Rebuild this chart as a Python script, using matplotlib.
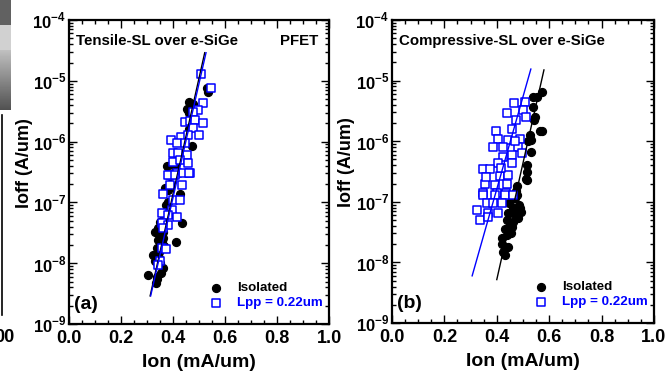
import matplotlib
matplotlib.use("Agg")
import matplotlib.pyplot as plt
import numpy as np

plt.rcParams['font.family'] = ['Liberation Sans', 'DejaVu Sans']
plt.rcParams['font.weight'] = 'bold'
plt.rcParams['mathtext.fontset'] = 'custom'
plt.rcParams['mathtext.rm'] = 'Liberation Sans:bold'
plt.rcParams['mathtext.bf'] = 'Liberation Sans:bold'

# panel (a): Tensile-SL over e-SiGe
ion_a_iso = [0.530, 0.536, 0.460, 0.470, 0.455, 0.478, 0.462, 0.458, 0.462, 0.472,
             0.376, 0.408, 0.427, 0.381, 0.433, 0.350, 0.331, 0.362, 0.342, 0.356,
             0.412, 0.324, 0.331, 0.362, 0.305, 0.337, 0.335, 0.345, 0.352, 0.340,
             0.348, 0.358, 0.366, 0.372, 0.390, 0.380, 0.360, 0.345, 0.350, 0.338,
             0.355, 0.370, 0.395, 0.342, 0.365]
ioff_a_iso = [7.5e-6, 6.5e-6, 4.5e-6, 4.0e-6, 3.5e-6, 4.2e-6, 3.0e-6, 3.3e-6, 1.6e-6, 8.5e-7,
              4.0e-7, 3.8e-7, 1.4e-7, 1.0e-7, 4.6e-8, 4.8e-8, 3.3e-8, 3.2e-8, 2.4e-8, 2.3e-8,
              2.2e-8, 1.35e-8, 1.1e-8, 8.3e-9, 6.4e-9, 6.0e-9, 4.7e-9, 3.0e-8, 2.8e-8, 1.8e-8,
              1.5e-8, 4.0e-8, 6.0e-8, 9.0e-8, 2.0e-7, 1.6e-7, 2.6e-8, 1.2e-8, 1.0e-8, 5.5e-9,
              7.0e-9, 1.7e-7, 6.5e-8, 3.8e-8, 1.9e-8]
ion_a_lpp = [0.508, 0.545, 0.514, 0.497, 0.478, 0.446, 0.465, 0.485, 0.514, 0.476,
             0.501, 0.430, 0.459, 0.391, 0.414, 0.446, 0.401, 0.420, 0.452, 0.401,
             0.427, 0.459, 0.388, 0.414, 0.440, 0.465, 0.382, 0.408, 0.463, 0.388,
             0.433, 0.363, 0.401, 0.427, 0.395, 0.356, 0.382, 0.414, 0.356, 0.382,
             0.363, 0.356, 0.373, 0.350, 0.344]
ioff_a_lpp = [1.3e-5, 7.5e-6, 4.3e-6, 3.3e-6, 3.1e-6, 2.1e-6, 2.2e-6, 2.3e-6, 2.0e-6, 1.65e-6,
              1.3e-6, 1.2e-6, 1.3e-6, 1.07e-6, 9.5e-7, 9.5e-7, 6.5e-7, 6.5e-7, 6.0e-7, 4.7e-7,
              5.0e-7, 4.4e-7, 2.8e-7, 3.0e-7, 3.0e-7, 3.0e-7, 2.8e-7, 2.8e-7, 3.1e-7, 1.9e-7,
              1.9e-7, 1.4e-7, 1.1e-7, 1.1e-7, 7.5e-8, 6.6e-8, 6.3e-8, 5.8e-8, 4.6e-8, 4.3e-8,
              3.8e-8, 1.8e-8, 1.7e-8, 1.1e-8, 9.3e-9]
fit_a_iso_x = [0.312, 0.522]
fit_a_iso_y = [2.9e-9, 2.9e-5]
fit_a_lpp_x = [0.314, 0.527]
fit_a_lpp_y = [2.9e-9, 2.9e-5]

# panel (b): Compressive-SL over e-SiGe
ion_b_iso = [0.571, 0.539, 0.552, 0.537, 0.546, 0.542, 0.565, 0.572, 0.527, 0.520,
             0.532, 0.529, 0.514, 0.516, 0.511, 0.473, 0.514, 0.476, 0.469, 0.463,
             0.489, 0.444, 0.469, 0.438, 0.463, 0.431, 0.457, 0.419, 0.438, 0.419,
             0.444, 0.425, 0.431, 0.485, 0.478, 0.450, 0.455, 0.480, 0.492, 0.447]
ioff_b_iso = [6.6e-6, 5.4e-6, 5.4e-6, 3.7e-6, 2.5e-6, 2.2e-6, 1.5e-6, 1.5e-6, 1.26e-6, 1.0e-6,
              1.05e-6, 6.7e-7, 4.0e-7, 3.1e-7, 2.4e-7, 1.5e-7, 2.3e-7, 1.8e-7, 1.15e-7, 7.8e-8,
              7.8e-8, 6.5e-8, 6.1e-8, 5.0e-8, 4.7e-8, 3.6e-8, 3.8e-8, 2.5e-8, 2.8e-8, 2.0e-8,
              1.8e-8, 1.5e-8, 1.3e-8, 9.0e-8, 1.3e-7, 4.2e-8, 3.0e-8, 5.5e-8, 6.8e-8, 9.5e-8]
ion_b_lpp = [0.466, 0.508, 0.499, 0.438, 0.473, 0.511, 0.397, 0.457, 0.406, 0.444,
             0.489, 0.387, 0.425, 0.482, 0.425, 0.457, 0.495, 0.406, 0.457, 0.346,
             0.412, 0.444, 0.355, 0.393, 0.438, 0.349, 0.400, 0.434, 0.349, 0.393,
             0.431, 0.463, 0.361, 0.387, 0.419, 0.323, 0.368, 0.406, 0.336, 0.368,
             0.375, 0.418, 0.470, 0.360]
ioff_b_lpp = [4.2e-6, 4.5e-6, 3.3e-6, 2.9e-6, 2.2e-6, 2.5e-6, 1.5e-6, 1.6e-6, 1.1e-6, 1.05e-6,
              1.1e-6, 8.0e-7, 8.0e-7, 8.0e-7, 5.5e-7, 6.0e-7, 6.3e-7, 4.3e-7, 4.3e-7, 3.5e-7,
              2.7e-7, 2.8e-7, 2.0e-7, 1.9e-7, 2.0e-7, 1.4e-7, 1.4e-7, 1.4e-7, 1.3e-7, 1.3e-7,
              1.3e-7, 1.3e-7, 9.5e-8, 9.5e-8, 9.5e-8, 7.4e-8, 6.5e-8, 6.5e-8, 5.0e-8, 5.6e-8,
              3.5e-7, 3.6e-7, 1.0e-6, 2.6e-7]
fit_b_iso_x = [0.400, 0.580]
fit_b_iso_y = [5.2e-9, 1.5e-5]
fit_b_lpp_x = [0.306, 0.530]
fit_b_lpp_y = [6.0e-9, 1.55e-5]

titles = ["Tensile-SL over e-SiGe", "Compressive-SL over e-SiGe"]
tags = ["(a)", "(b)"]
legend_names = ["Isolated", "Lpp = 0.22um"]
legend_y = [3.9e-9, 2.2e-9]
decades = [1e-9, 1e-8, 1e-7, 1e-6, 1e-5, 1e-4]
dec_labels = ['$10^{-9}$', '$10^{-8}$', '$10^{-7}$', '$10^{-6}$', '$10^{-5}$', '$10^{-4}$']
xticks = [0.0, 0.2, 0.4, 0.6, 0.8, 1.0]

fig = plt.figure(figsize=(6.72, 3.76), dpi=100)
ax_a = fig.add_axes([0.1027, 0.1383, 0.3869, 0.8085])
ax_b = fig.add_axes([0.5833, 0.1410, 0.3899, 0.8058])

panels = [
    (ax_a, ion_a_iso, ioff_a_iso, ion_a_lpp, ioff_a_lpp, fit_a_iso_x, fit_a_iso_y, fit_a_lpp_x, fit_a_lpp_y),
    (ax_b, ion_b_iso, ioff_b_iso, ion_b_lpp, ioff_b_lpp, fit_b_iso_x, fit_b_iso_y, fit_b_lpp_x, fit_b_lpp_y),
]

for i, (ax, xi, yi, xl, yl, fxi, fyi, fxl, fyl) in enumerate(panels):
    ax.set_yscale('log')
    ax.scatter(xi, yi, s=32, color='black', marker='o', zorder=2)
    ax.scatter(xl, yl, s=28, facecolor='white', edgecolor='blue', marker='s', linewidths=1.1, zorder=3)
    ax.plot(fxi, fyi, color='black', lw=1.0, zorder=4)
    ax.plot(fxl, fyl, color='blue', lw=1.0, zorder=4)
    ax.set_xlim(0, 1)
    ax.set_ylim(1e-9, 1e-4)
    ax.set_xticks(xticks)
    ax.set_xticklabels([f"{v:.1f}" for v in xticks], fontsize=13, fontweight='bold')
    ax.set_xticks(np.arange(0, 1.001, 0.05), minor=True)
    ax.set_yticks(decades)
    ax.set_yticklabels(dec_labels, fontsize=12)
    ax.yaxis.set_minor_locator(matplotlib.ticker.LogLocator(base=10, subs=np.arange(2, 10)))
    ax.yaxis.set_minor_formatter(matplotlib.ticker.NullFormatter())
    ax.tick_params(which='both', direction='in', top=True, right=True, width=1.0)
    ax.tick_params(which='major', length=6)
    ax.tick_params(axis='x', which='major', pad=4.5)
    ax.tick_params(axis='y', which='major', pad=2)
    ax.tick_params(which='minor', length=3)
    for sp in ax.spines.values():
        sp.set_linewidth(1.6)
    ax.set_xlabel("Ion (mA/um)", fontsize=14, fontweight='bold')
    ax.xaxis.set_label_coords(0.5, -0.1)
    ax.set_ylabel("Ioff (A/um)", fontsize=13, fontweight='bold', va='center')
    ax.yaxis.set_label_coords(-0.172, 0.53)
    ax.text(0.025, 0.955, titles[i], transform=ax.transAxes, fontsize=10.8, fontweight='bold', va='top')
    ax.text(0.02, 0.035, tags[i], transform=ax.transAxes, fontsize=14, fontweight='bold', va='bottom')
    # legend
    ax.scatter([0.567], [legend_y[0]], s=32, color='black', marker='o')
    ax.scatter([0.567], [legend_y[1]], s=28, facecolor='white', edgecolor='blue', marker='s', linewidths=1.1)
    ax.text(0.648, legend_y[0], legend_names[0], fontsize=9.6, fontweight='bold', va='center')
    ax.text(0.648, legend_y[1], legend_names[1], fontsize=9.6, fontweight='bold', va='center', color='blue')

ax_a.text(0.96, 0.955, "PFET", transform=ax_a.transAxes, fontsize=10.8, fontweight='bold', va='top', ha='right')

# remnant of a neighbouring panel at the left edge
grad = np.concatenate([np.full(25, 0.38), np.full(25, 0.82), np.linspace(0.75, 0.32, 60)])
gax = fig.add_axes([0, 1 - 110 / 376, 11 / 672, 110 / 376])
gax.imshow(grad[:, None], cmap='gray', vmin=0, vmax=1, aspect='auto')
gax.axis('off')
fig.add_artist(plt.Line2D([1.5 / 672, 1.5 / 672], [1 - 315 / 376, 1 - 115 / 376], color='black', lw=1.2))
fig.text(-0.008, 1 - 337 / 376, "00", fontsize=13, fontweight='bold', va='center')

fig.savefig("out.png", dpi=100)
